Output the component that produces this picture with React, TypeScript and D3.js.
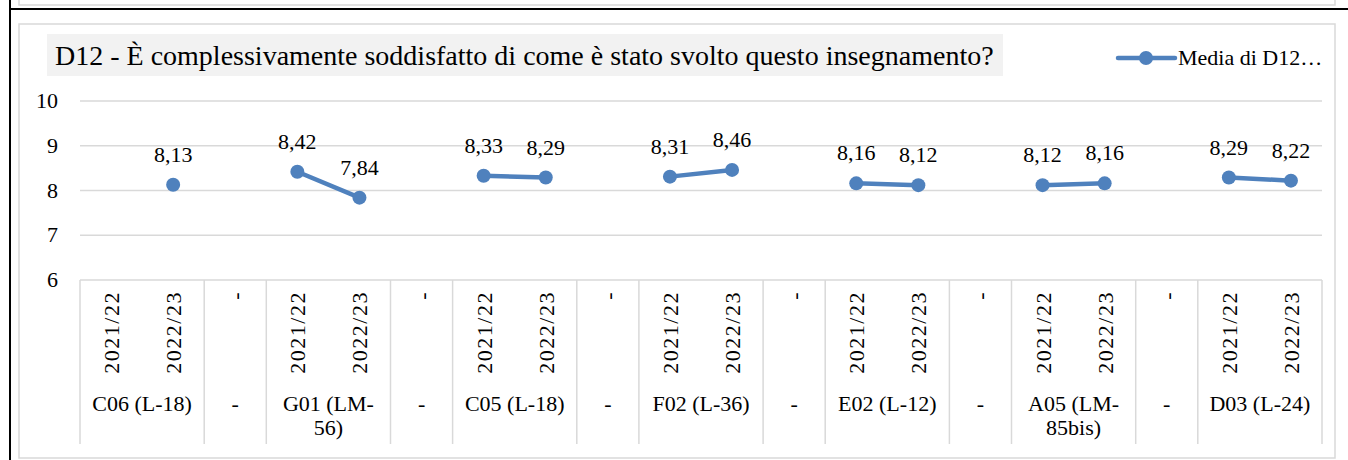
import React from 'react';
import * as d3 from 'd3';

// chart data
const groupLabels = [
  ['C06 (L-18)'], ['-'], ['G01 (LM-', '56)'], ['-'], ['C05 (L-18)'], ['-'],
  ['F02 (L-36)'], ['-'], ['E02 (L-12)'], ['-'], ['A05 (LM-', '85bis)'], ['-'], ['D03 (L-24)'],
];
const years = ['2021/22', '2022/23'];
const seriesValues = [
  [null, 8.13], [null], [8.42, 7.84], [null], [8.33, 8.29], [null],
  [8.31, 8.46], [null], [8.16, 8.12], [null], [8.12, 8.16], [null], [8.29, 8.22],
];
const yTicks = [6, 7, 8, 9, 10];
const title = 'D12 - È complessivamente soddisfatto di come è stato svolto questo insegnamento?';
const legendLabel = 'Media di D12…';

const W = 1348;
const H = 460;
const BLUE = '#4f81bd';
const GRID = '#d9d9d9';
const TXT = { fontFamily: 'Liberation Serif' };

type Slot = { key: string; group: number; label: string; value: number | null };

const slots: Slot[] = [];
groupLabels.forEach((g, gi) => {
  const vals = seriesValues[gi];
  vals.forEach((v, i) => {
    slots.push({
      key: `${gi}-${i}`,
      group: gi,
      label: g[0] === '-' ? '-' : years[i],
      value: v,
    });
  });
});

const App = () => {
  const x = d3.scaleBand<string>()
    .domain(slots.map(s => s.key))
    .range([80, 1322])
    .padding(0);
  const y = d3.scaleLinear().domain([6, 10]).range([280, 101]);
  const bw = x.bandwidth();
  const cx = (s: Slot) => (x(s.key) as number) + bw / 2;

  const line = d3.line<Slot>()
    .defined(d => d.value !== null)
    .x(d => cx(d))
    .y(d => y(d.value as number));

  // group boundaries
  const groupBounds = groupLabels.map((_, gi) => {
    const gs = slots.filter(s => s.group === gi);
    const x0 = x(gs[0].key) as number;
    const x1 = (x(gs[gs.length - 1].key) as number) + bw;
    return { gi, x0, x1 };
  });

  return (
    <svg width={W} height={H} style={{ position: 'absolute', left: 0, top: 0 }}>
      <rect x={0} y={0} width={W} height={H} fill="#fff" />
      {/* previous box remnant */}
      <path d="M19,0 V5 H1335 V0" fill="none" stroke={GRID} strokeWidth={1.5} />
      <line x1={10} x2={W} y1={9} y2={9} stroke="#000" strokeWidth={2} />
      <line x1={10} x2={10} y1={0} y2={H} stroke="#000" strokeWidth={2} />
      {/* chart area */}
      <rect x={19} y={24} width={1316} height={434} fill="#fff" stroke={GRID} strokeWidth={1.5} />

      {/* title */}
      <rect x={47} y={34} width={956} height={42} fill="#f2f2f2" />
      <text x={55} y={65} fontSize={28} fill="#000" style={TXT}>{title}</text>

      {/* legend */}
      <line x1={1118} x2={1175} y1={58} y2={58} stroke={BLUE} strokeWidth={4.5} strokeLinecap="round" />
      <circle cx={1146} cy={58} r={7} fill={BLUE} />
      <text x={1178} y={65} fontSize={22} fill="#000" style={TXT}>{legendLabel}</text>

      {/* gridlines & y axis */}
      {yTicks.map(t => (
        <g key={t}>
          <line x1={80} x2={1322} y1={y(t)} y2={y(t)} stroke={GRID} strokeWidth={1.5} />
          <text x={58} y={y(t) + 7} fontSize={22} textAnchor="end" fill="#000" style={TXT}>{t}</text>
        </g>
      ))}

      {/* x axis: separators */}
      {groupBounds.map(b => (
        <line key={`s${b.gi}`} x1={b.x0} x2={b.x0} y1={280} y2={444} stroke={GRID} strokeWidth={1.5} />
      ))}
      <line x1={1322} x2={1322} y1={280} y2={444} stroke={GRID} strokeWidth={1.5} />

      {/* x axis: slot labels */}
      {slots.map(s => (
        <text
          key={`l${s.key}`}
          transform={`translate(${cx(s) + 8},291) rotate(-90)`}
          fontSize={22}
          letterSpacing={1.5}
          textAnchor="end"
          fill="#000"
          style={TXT}
        >
          {s.label}
        </text>
      ))}

      {/* x axis: group labels */}
      {groupBounds.map(b => (
        <text key={`g${b.gi}`} x={(b.x0 + b.x1) / 2} y={411} fontSize={22} textAnchor="middle" fill="#000" style={TXT}>
          {groupLabels[b.gi].map((ln, i) => (
            <tspan key={i} x={(b.x0 + b.x1) / 2} dy={i === 0 ? 0 : 24}>{ln}</tspan>
          ))}
        </text>
      ))}

      {/* series */}
      <path d={line(slots) || ''} fill="none" stroke={BLUE} strokeWidth={4.5} />
      {slots.filter(s => s.value !== null).map(s => (
        <g key={`p${s.key}`}>
          <circle cx={cx(s)} cy={y(s.value as number)} r={7} fill={BLUE} />
          <text x={cx(s)} y={y(s.value as number) - 23} fontSize={22} textAnchor="middle" fill="#000" style={TXT}>
            {(s.value as number).toFixed(2).replace('.', ',')}
          </text>
        </g>
      ))}
    </svg>
  );
};

export default App;
